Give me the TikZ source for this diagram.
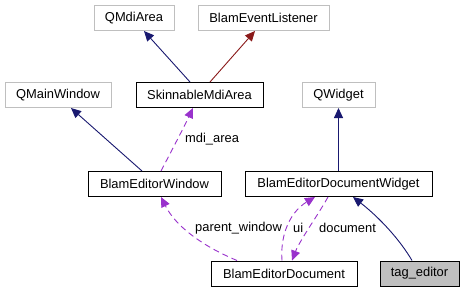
\documentclass[tikz,border=0pt]{standalone}
\usepackage{fontspec}
\setmainfont{Liberation Sans}
\usetikzlibrary{arrows.meta}
\definecolor{navyc}{RGB}{25,25,112}
\definecolor{redc}{RGB}{139,26,26}
\definecolor{purplec}{RGB}{153,50,204}
\definecolor{lgray}{RGB}{191,191,191}
\tikzset{
  cls/.style={draw=black, line width=1pt, fill=white, inner sep=0pt, font=\fontsize{12.9}{15}\selectfont, minimum height=25pt},
  ext/.style={cls, draw=lgray},
  cur/.style={cls, fill=lgray},
  inh/.style={draw=navyc, line width=0.9pt, -{Triangle[length=10pt,width=9pt]}},
  inhr/.style={draw=redc, line width=0.9pt, -{Triangle[length=10pt,width=9pt]}},
  use/.style={draw=purplec, line width=0.9pt, dash pattern=on 6pt off 4pt, -{Triangle[length=10pt,width=9pt]}},
  lbl/.style={font=\fontsize{12.9}{15}\selectfont, inner sep=0pt, anchor=west},
}
\begin{document}
\begin{tikzpicture}[x=1pt,y=-1pt]
\useasboundingbox (0,0) rectangle (465,292);
\fill[white] (0,0) rectangle (465,292);
\node[ext, minimum width=80pt] (qmdi) at (134,18) {QMdiArea};
\node[ext, minimum width=131pt] (bel) at (263.5,18) {BlamEventListener};
\node[ext, minimum width=106pt] (qmw) at (58,95) {QMainWindow};
\node[cls, minimum width=127pt] (sma) at (199.5,95) {SkinnableMdiArea};
\node[ext, minimum width=73pt] (qw) at (338.5,95) {QWidget};
\node[cls, minimum width=133pt] (bew) at (154.5,184) {BlamEditorWindow};
\node[cls, minimum width=187pt] (bedw) at (338.5,184) {BlamEditorDocumentWidget};
\node[cls, minimum width=146pt] (bed) at (284,273.5) {BlamEditorDocument};
\node[cur, minimum width=79pt] (tag) at (419.5,273.5) {tag\_editor};

\draw[inh] (sma.north -| 190,0) -- (qmdi.south -| 144,0);
\draw[inhr] (sma.north -| 210,0) -- (bel.south -| 255,0);
\draw[inh] (bew.north -| 142,0) -- (qmw.south -| 71,0);
\draw[use] (bew.north -| 161,0) .. controls (172,150) and (185,125) .. (sma.south -| 193,0);
\node[lbl] (lmdi) at (185,139) {mdi\_area};
\draw[inh] (bedw.north) -- (qw.south);
\draw[use] (bed.north -| 237,0) .. controls (200,245) and (175,225) .. (bew.south -| 161,0);
\node[lbl] (lpw) at (195,228) {parent\_window};
\draw[use] (bed.north -| 282,0) .. controls (280,235) and (290,212) .. (bedw.south -| 315,0);
\node[lbl] (lui) at (293,228) {ui};
\draw[use] (bedw.south -| 328,0) .. controls (318,215) and (300,240) .. (bed.north -| 292,0);
\node[lbl] (ldoc) at (319,228) {document};
\draw[inh] (tag.north -| 412,0) .. controls (400,240) and (380,218) .. (bedw.south -| 353,0);
\end{tikzpicture}
\end{document}
